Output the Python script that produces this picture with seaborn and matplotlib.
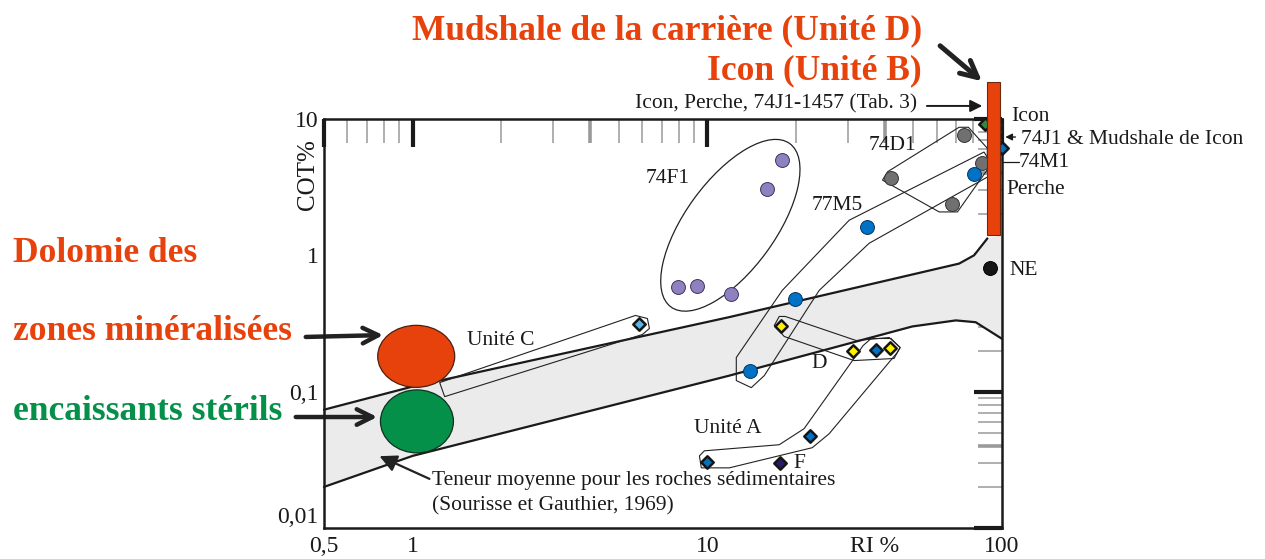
import numpy as np
import seaborn as sns
import matplotlib.pyplot as plt
from matplotlib.patches import Ellipse
from matplotlib.transforms import ScaledTranslation
from matplotlib.ticker import FixedLocator, FixedFormatter, LogLocator, NullFormatter

# --- valeurs (RI %, COT %) ---
x_ticks = [0.5, 1, 10, 36.8, 100]
x_labels = ["0,5", "1", "10", "RI %", "100"]
y_ticks = [0.01, 0.1, 1, 10]
y_labels = ["0,01", "0,1", "1", "10"]

# bande "teneur moyenne pour les roches sedimentaires"
band_up_x = [0.5, 1.0, 11.87, 71.5, 80.4, 89.2]
band_up_y = [0.0737, 0.109, 0.352, 0.869, 1.0, 1.33]
band_lo_x = [0.5, 1.0, 11.87, 49.6, 69.7, 81.4, 100]
band_lo_y = [0.02, 0.0338, 0.131, 0.3006, 0.333, 0.323, 0.244]

# points
f1_x = [17.9, 15.9, 7.93, 9.23, 12.0]
f1_y = [5.0, 3.06, 0.585, 0.592, 0.523]
d1_x = [74.3, 42.0, 67.7, 85.5]
d1_y = [7.63, 3.68, 2.37, 4.75]
m5_x = [19.9, 14.0, 34.9, 80.4]
m5_y = [0.481, 0.141, 1.61, 3.96]
uc_x = [5.88]
uc_y = [0.311]
ua_x = [9.98, 22.3, 37.3]
ua_y = [0.0307, 0.0475, 0.2025]
ud_x = [17.78, 31.3, 41.6]
ud_y = [0.302, 0.200, 0.2096]
f_x = [17.7]
f_y = [0.0302]
ne_x = [91.0]
ne_y = [0.806]
icon_x = [87.5]
icon_y = [9.19]
j1_x = [100]
j1_y = [6.12]

# contours des groupes
m5_poly_x = [12.54, 17.96, 30.3, 86.9, 90.4, 90.4, 35.4, 23.97, 15.6, 14.1, 12.54]
m5_poly_y = [0.178, 0.553, 1.809, 5.72, 4.99, 3.81, 1.225, 0.553, 0.131, 0.107, 0.1205]
d1_poly_x = [71.5, 76.9, 89.2, 89.0, 70.6, 61.2, 39.3, 40.9]
d1_poly_y = [8.69, 8.69, 6.09, 4.22, 2.08, 2.08, 3.56, 4.10]
uc_poly_x = [1.235, 5.70, 6.26, 6.36, 6.02, 1.284]
uc_poly_y = [0.1165, 0.362, 0.344, 0.2905, 0.2625, 0.0919]
ud_poly_x = [16.87, 17.54, 18.38, 32.0, 41.4, 45.1, 43.0, 31.5, 18.24]
ud_poly_y = [0.3056, 0.356, 0.356, 0.237, 0.2495, 0.2107, 0.175, 0.169, 0.2538]
ua_poly_x = [9.40, 9.54, 11.87, 22.7, 25.9, 44.1, 45.1, 42.0, 35.96, 33.8, 21.3, 17.54, 9.77]
ua_poly_y = [0.0338, 0.0276, 0.0276, 0.0388, 0.0491, 0.1935, 0.2107, 0.2453, 0.2453, 0.218, 0.0535, 0.0408, 0.0368]

# barre des mudshales (Icon / carriere)
bar_x0, bar_x1 = 88.7, 98.2
bar_y0, bar_y1 = 1.40, 18.7

# centres des ellipses
f1_ell = (11.97, 1.66)
red_ell = (1.028, 0.1815)
green_ell = (1.034, 0.0605)

RED = "#E8420C"
GREEN = "#05904A"
INK = "#1a1a1a"

sns.set_theme(style="white")
plt.rcParams["font.family"] = ["Liberation Serif", "DejaVu Serif"]

fig = plt.figure(figsize=(12.65, 5.59), dpi=100)
ax = fig.add_axes([0.2561, 0.0555, 0.536, 0.7317])
ax.set_xscale("log")
ax.set_yscale("log")
ax.set_xlim(0.5, 100)
ax.set_ylim(0.01, 10)
ax.set_autoscale_on(False)

# bande grise
poly_x = band_up_x + [100] + band_lo_x[::-1]
poly_y = band_up_y + [bar_y0] + band_lo_y[::-1]
ax.fill(poly_x, poly_y, color="#EBEBEB", lw=0, zorder=1)
ax.plot(band_up_x, band_up_y, color=INK, lw=1.6, zorder=2, clip_on=False)
ax.plot(band_lo_x, band_lo_y, color=INK, lw=1.6, zorder=2, clip_on=False)

# contours
for px, py in [(m5_poly_x, m5_poly_y), (d1_poly_x, d1_poly_y), (uc_poly_x, uc_poly_y),
               (ud_poly_x, ud_poly_y), (ua_poly_x, ua_poly_y)]:
    ax.fill(px, py, facecolor="none", edgecolor="#222222", lw=0.8, zorder=3)

def at_data(xy):
    return fig.dpi_scale_trans + ScaledTranslation(xy[0], xy[1], ax.transData)

ax.add_patch(Ellipse((0, 0), 2.02, 0.9, angle=54, transform=at_data(f1_ell),
                     fill=False, ec="#222222", lw=0.9, zorder=3))

# points ronds
circ = dict(ax=ax, s=100, linewidth=0.7, zorder=5, legend=False, clip_on=False)
sns.scatterplot(x=f1_x, y=f1_y, color="#8F80C0", edgecolor="#3d3560", **circ)
sns.scatterplot(x=d1_x, y=d1_y, color="#707070", edgecolor="#333333", **circ)
sns.scatterplot(x=m5_x, y=m5_y, color="#0072C6", edgecolor="#0a3560", **circ)
sns.scatterplot(x=ne_x, y=ne_y, color="#151515", edgecolor="#000000", **circ)

# losanges
dia = dict(ax=ax, marker="D", s=40, edgecolor="#151515", linewidth=1.8, zorder=5,
           legend=False, clip_on=False)
sns.scatterplot(x=uc_x, y=uc_y, color="#55B8EC", **dia)
sns.scatterplot(x=ua_x, y=ua_y, color="#0072C6", **dia)
sns.scatterplot(x=ud_x, y=ud_y, color="#FFF200", **dia)
sns.scatterplot(x=f_x, y=f_y, color="#2B1670", **dia)
sns.scatterplot(x=icon_x, y=icon_y, color="#2E8B3A", **dia)
sns.scatterplot(x=j1_x, y=j1_y, color="#0072C6", **dia)

# barre rouge
ax.bar(bar_x0, bar_y1 - bar_y0, bottom=bar_y0, width=bar_x1 - bar_x0, align="edge",
       color=RED, edgecolor="#6a2a10", lw=0.8, zorder=6, clip_on=False)

# ellipses dolomie
ax.add_patch(Ellipse((0, 0), 0.77, 0.62, transform=at_data(red_ell), fc=RED,
                     ec="#4a2010", lw=0.9, zorder=7, clip_on=False))
ax.add_patch(Ellipse((0, 0), 0.73, 0.63, transform=at_data(green_ell), fc=GREEN,
                     ec="#103020", lw=0.9, zorder=7, clip_on=False))

# axes et graduations
ax.xaxis.set_major_locator(FixedLocator(x_ticks))
ax.xaxis.set_major_formatter(FixedFormatter(x_labels))
ax.yaxis.set_major_locator(FixedLocator(y_ticks))
ax.yaxis.set_major_formatter(FixedFormatter(y_labels))
for axis in (ax.xaxis, ax.yaxis):
    axis.set_minor_locator(LogLocator(base=10, subs=np.arange(2, 10), numticks=20))
    axis.set_minor_formatter(NullFormatter())
ax.tick_params(which="major", direction="in", length=20, width=3, color=INK,
               top=True, right=True, labelsize=17, labelcolor=INK)
ax.tick_params(axis="x", which="major", pad=6)
ax.tick_params(axis="y", which="major", pad=4)
ax.tick_params(which="minor", direction="in", length=17, width=1.1, color="#9a9a9a",
               top=True, right=True)
for t, loc in zip(ax.xaxis.get_major_ticks(), ax.xaxis.get_majorticklocs()):
    if abs(loc - 36.8) < 0.1:
        t.tick1line.set_visible(False)
        t.tick2line.set_visible(False)
for axis in (ax.xaxis, ax.yaxis):
    for t, loc in zip(axis.get_minor_ticks(), axis.get_minorticklocs()):
        m = loc / 10 ** np.floor(np.log10(loc) + 1e-9)
        if abs(m - 4) < 0.01:
            t.tick1line.set_markeredgewidth(2.6)
            t.tick2line.set_markeredgewidth(2.6)
for lbl in ax.get_yticklabels():
    if lbl.get_text() == "0,01":
        lbl.set_verticalalignment("bottom")
for s in ax.spines.values():
    s.set_linewidth(1.8)
    s.set_color(INK)
    s.set_zorder(4)
ax.grid(False)

ax.text(-0.024, 0.863, "COT%", transform=ax.transAxes, rotation=90, ha="center",
        va="center", fontsize=18, color=INK)

# etiquettes dans le graphique
lab = dict(fontsize=15.5, color=INK, va="center", clip_on=False, zorder=8)
for txt, tx, ty in [("74F1", 7.32, 3.68), ("77M5", 27.6, 2.33), ("74D1", 42.4, 6.44),
                    ("Unité C", 1.99, 0.237), ("Unité A", 11.7, 0.0535),
                    ("D", 24.0, 0.1607), ("F", 20.5, 0.0296)]:
    ax.text(tx, ty, txt, ha="center", **lab)
for txt, tx, ty in [("Icon", 107.3, 10.35), ("74J1 & Mudshale de Icon", 115.9, 7.01),
                    ("74M1", 114.2, 4.83), ("Perche", 103.2, 3.06), ("NE", 105.6, 0.776),
                    ("Teneur moyenne pour les roches sédimentaires", 1.16, 0.0222),
                    ("(Sourisse et Gauthier, 1969)", 1.16, 0.01452)]:
    ax.text(tx, ty, txt, ha="left", **lab)
ax.text(51.5, 12.9, "Icon, Perche, 74J1-1457 (Tab. 3)", ha="right", **lab)

ax.annotate("", xy=(87.6, 12.46), xytext=(54.4, 12.46), annotation_clip=False,
            arrowprops=dict(arrowstyle="-|>", lw=1.4, color=INK, mutation_scale=18))
ax.annotate("", xy=(100.4, 7.37), xytext=(113.5, 7.37), annotation_clip=False,
            arrowprops=dict(arrowstyle="-|>", lw=1.0, color=INK, mutation_scale=10))
ax.plot([100.4, 114.0], [4.83, 4.83], color=INK, lw=0.9, clip_on=False)

# textes exterieurs
big = dict(fontsize=25.5, fontweight="bold", va="baseline")
fig.text(0.7289, 0.9302, "Mudshale de la carrière (Unité D)", ha="right", color=RED, **big)
fig.text(0.7289, 0.8587, "Icon (Unité B)", ha="right", color=RED, **big)
fig.text(0.0103, 0.5313, "Dolomie des", ha="left", color=RED, **big)
fig.text(0.0103, 0.3918, "zones minéralisées", ha="left", color=RED, **big)
fig.text(0.0103, 0.2487, "encaissants stérils", ha="left", color=GREEN, **big)

arr = dict(xycoords="figure fraction", textcoords="figure fraction", annotation_clip=False)
ax.annotate("", xy=(0.7779, 0.8515), xytext=(0.7415, 0.9213), **arr,
            arrowprops=dict(arrowstyle="->", lw=3.6, color="#222222", mutation_scale=30))
ax.annotate("", xy=(0.3051, 0.4007), xytext=(0.2395, 0.3971), **arr,
            arrowprops=dict(arrowstyle="->", lw=3.2, color="#222222", mutation_scale=28))
ax.annotate("", xy=(0.3004, 0.254), xytext=(0.2316, 0.254), **arr,
            arrowprops=dict(arrowstyle="->", lw=3.2, color="#222222", mutation_scale=28))
ax.annotate("", xy=(0.298, 0.186), xytext=(0.3415, 0.1413), **arr,
            arrowprops=dict(arrowstyle="-|>", lw=1.6, color="#222222", mutation_scale=26))

fig.savefig("out.png", dpi=100)
